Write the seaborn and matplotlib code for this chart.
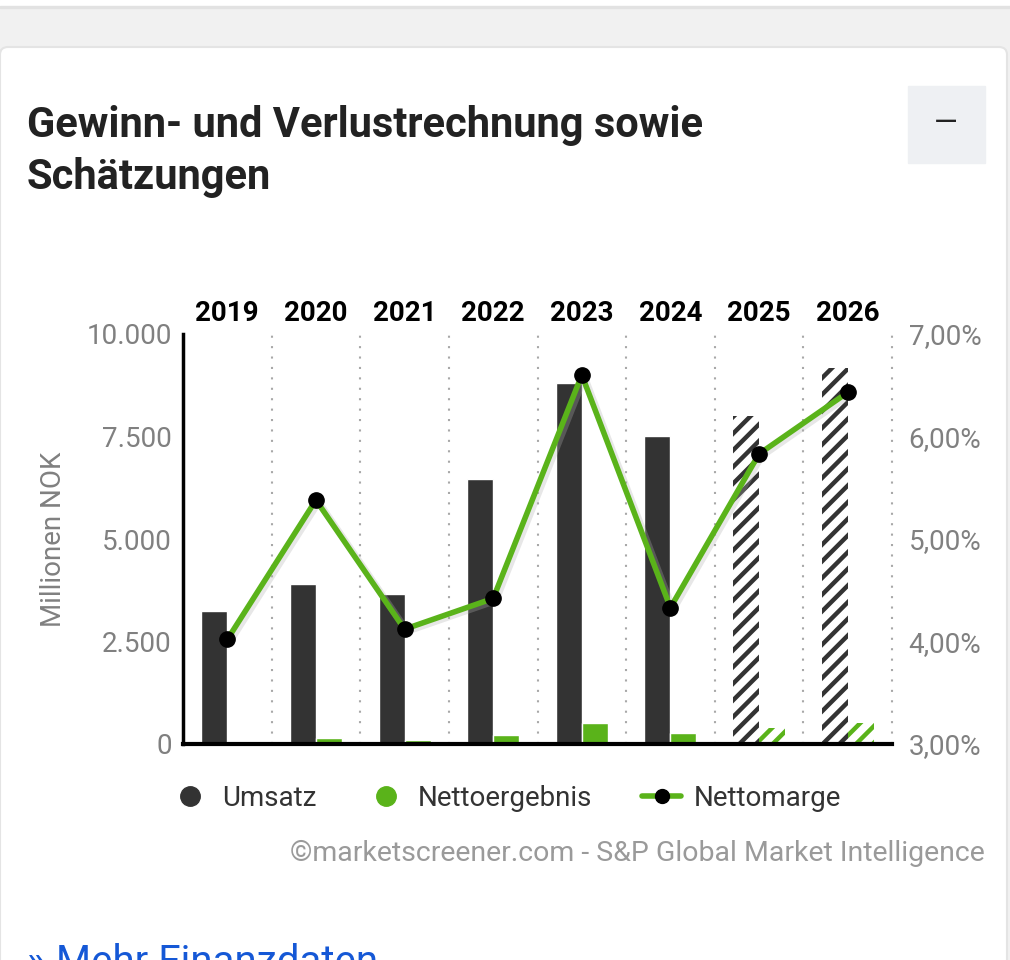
import numpy as np
import pandas as pd
import seaborn as sns
import matplotlib.pyplot as plt
from matplotlib.patches import Rectangle, FancyBboxPatch
from matplotlib.lines import Line2D

# data
years = ["2019", "2020", "2021", "2022", "2023", "2024", "2025", "2026"]
umsatz = [3250, 3900, 3660, 6460, 8810, 7520, 7990, 9160]
nettoergebnis = [0, 150, 100, 210, 505, 260, 400, 505]
nettomarge = [4.02, 5.38, 4.12, 4.42, 6.60, 4.33, 5.83, 6.43]
forecast = ["2025", "2026"]
y_ticks = [0, 2500, 5000, 7500, 10000]
y_ticklabels = ["0", "2.500", "5.000", "7.500", "10.000"]
m_ticks = [3, 4, 5, 6, 7]
m_ticklabels = ["3,00%", "4,00%", "5,00%", "6,00%", "7,00%"]

DARK = "#333333"
GREEN = "#5ab31a"
GRAY = "#808080"

sns.set_theme(style="white")
plt.rcParams["font.family"] = ["Roboto", "DejaVu Sans"]
plt.rcParams["hatch.linewidth"] = 3.2

fig = plt.figure(figsize=(10.1, 9.6), dpi=100)
W, H = 1010, 960

# page background: gray band and card
fig.patches.append(Rectangle((0, 0), 1, 1, transform=fig.transFigure, color="#f1f1f1", zorder=-10))
fig.patches.append(Rectangle((0, 1 - 6 / H), 1, 6 / H, transform=fig.transFigure, color="white", zorder=-9))
fig.patches.append(Rectangle((0, 1 - 8 / H), 1, 2 / H, transform=fig.transFigure, color="#e2e2e2", zorder=-9))
fig.patches.append(FancyBboxPatch((0, -0.05), 1.0 - 3 / W, 1 - 47 / H + 0.05,
                                  boxstyle="round,pad=0,rounding_size=0.008",
                                  transform=fig.transFigure, facecolor="white",
                                  edgecolor="#e4e4e4", linewidth=1.5, zorder=-8))

fig.text(27 / W, 1 - 125 / H, "Gewinn- und Verlustrechnung sowie", fontsize=30,
         fontweight="bold", color="#222222", va="center", ha="left")
fig.text(27 / W, 1 - 177 / H, "Schätzungen", fontsize=30,
         fontweight="bold", color="#222222", va="center", ha="left")
fig.patches.append(Rectangle((908 / W, 1 - 163 / H), 77 / W, 77 / H,
                             transform=fig.transFigure, color="#eef0f3", zorder=-5))
fig.text(946 / W, 1 - 124 / H, "—", fontsize=22, color="#222222", ha="center", va="center")

# main axes
ax = fig.add_axes([183 / W, 1 - 744 / H, 709 / W, 410 / H])
df = pd.DataFrame({
    "Jahr": years * 2,
    "Wert": umsatz + nettoergebnis,
    "Reihe": ["Umsatz"] * len(years) + ["Nettoergebnis"] * len(years),
})
sns.barplot(data=df, x="Jahr", y="Wert", hue="Reihe", order=years,
            hue_order=["Umsatz", "Nettoergebnis"], palette=[DARK, GREEN],
            width=0.586, saturation=1, errorbar=None, legend=False, ax=ax)

# forecast years: hatched bars
for i, p in enumerate(ax.patches[:2 * len(years)]):
    yr = years[i % len(years)]
    is_net = i >= len(years)
    if yr in forecast:
        col = GREEN if is_net else DARK
        p.set_facecolor("white")
        p.set_hatch("//")
        p.set_edgecolor(col)
        p.set_linewidth(0)

ax.set_xlim(-0.5, len(years) - 0.5)
ax.set_ylim(0, 10000)
ax.set_yticks(y_ticks)
ax.set_yticklabels(y_ticklabels)
ax.set_xlabel("")
ax.set_ylabel("Millionen NOK", fontsize=20, color=GRAY, labelpad=14)
ax.tick_params(axis="y", length=0, pad=8, labelsize=20, labelcolor=GRAY)
ax.tick_params(axis="x", bottom=False, labelbottom=False, top=True, labeltop=True,
               length=0, pad=5, labelsize=20)
for lab in ax.get_xticklabels():
    lab.set_fontweight("bold")
    lab.set_color("black")

for s in ["top", "right"]:
    ax.spines[s].set_visible(False)
ax.spines["left"].set_color("black")
ax.spines["left"].set_linewidth(2.5)
ax.spines["bottom"].set_color("black")
ax.spines["bottom"].set_linewidth(3)

for k in range(len(years)):
    ax.axvline(k + 0.5, color="#a8a8a8", linestyle=(0, (1, 4)), linewidth=1.5,
               ymin=0, ymax=1.01, clip_on=False, zorder=0)

# margin line on second axis
ax2 = ax.twinx()
xpos = np.arange(len(years))
sns.lineplot(x=xpos + 0.03, y=np.array(nettomarge) - 0.02, color="#b0b0b0", alpha=0.3,
             linewidth=5, ax=ax2, zorder=2)
sns.lineplot(x=xpos, y=nettomarge, color=GREEN, linewidth=4, ax=ax2, zorder=3)
ax2.plot(xpos, nettomarge, linestyle="none", marker="o", markersize=11,
         color="black", zorder=4)
ax2.set_ylim(3, 7)
ax2.set_yticks(m_ticks)
ax2.set_yticklabels(m_ticklabels)
ax2.tick_params(axis="y", length=0, pad=12, labelsize=20, labelcolor=GRAY)
for s in ["top", "right", "left", "bottom"]:
    ax2.spines[s].set_visible(False)
ax2.set_xlim(-0.5, len(years) - 0.5)

# legend
handles = [
    Line2D([], [], linestyle="none", marker="o", markersize=14, color=DARK),
    Line2D([], [], linestyle="none", marker="o", markersize=14, color=GREEN),
    Line2D([], [], color=GREEN, linewidth=4, marker="o", markersize=10,
           markerfacecolor="black", markeredgecolor="black"),
]
fig.legend(handles, ["Umsatz", "Nettoergebnis", "Nettomarge"], loc="center",
           bbox_to_anchor=(506 / W, 1 - 798 / H), ncol=3, frameon=False,
           fontsize=20, labelcolor="#333333", handlelength=1.4, handletextpad=0.45,
           columnspacing=1.8)

fig.text(985 / W, 1 - 853 / H, "©marketscreener.com - S&P Global Market Intelligence",
         fontsize=20.5, color="#9a9a9a", ha="right", va="center")
fig.text(27 / W, 1 - 962 / H, "» Mehr Finanzdaten", fontsize=29, color="#1558d6",
         ha="left", va="center")

fig.savefig("out.png", dpi=100)
